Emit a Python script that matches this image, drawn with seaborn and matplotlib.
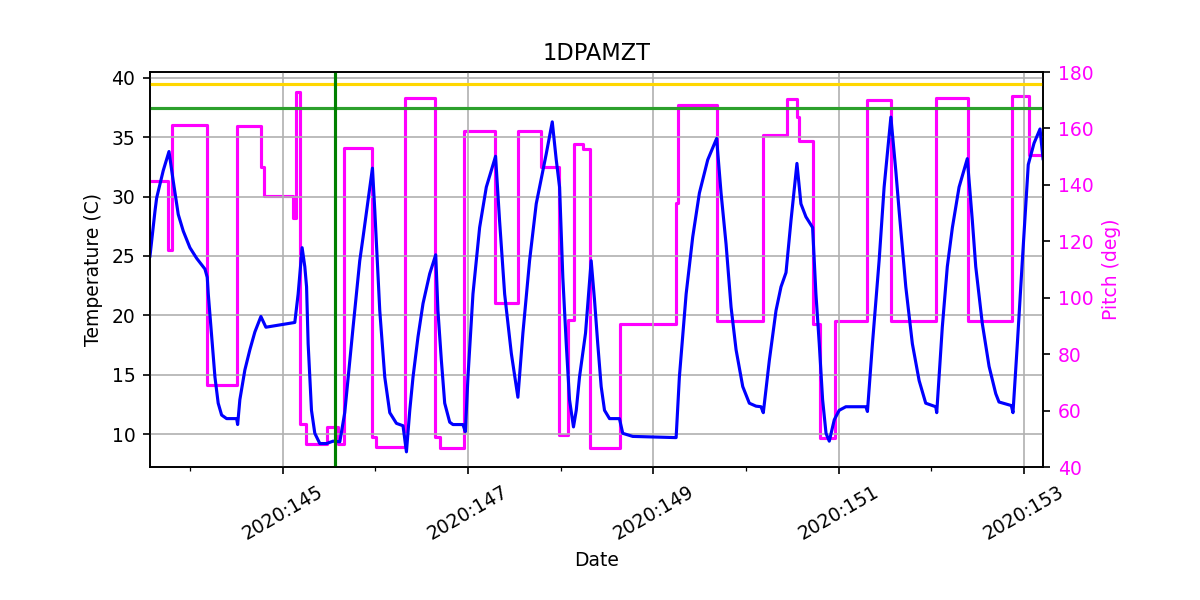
import matplotlib
matplotlib.use("Agg")
import matplotlib.pyplot as plt
import seaborn as sns
import pandas as pd

plt.rcParams["font.size"] = 9

title = "1DPAMZT"
xtick_days = [145, 147, 149, 151, 153]
xtick_labels = ["2020:145", "2020:147", "2020:149", "2020:151", "2020:153"]
minor_days = [144, 146, 148, 150, 152]
planning_limit = 37.5
yellow_limit = 39.5
now_day = 145.56

# Temperature (blue) - day of year (decimal), deg C
temp_day = [143.566, 143.620, 143.638, 143.709, 143.771, 143.817, 143.871, 143.925, 143.997,
            144.070, 144.159, 144.184, 144.195, 144.231, 144.267, 144.302, 144.339, 144.393,
            144.501, 144.512, 144.536, 144.590, 144.644, 144.698, 144.763, 144.817, 145.129,
            145.165, 145.208, 145.237, 145.256, 145.273, 145.309, 145.345, 145.399, 145.471,
            145.542, 145.615, 145.668, 145.758, 145.830, 145.866, 145.920, 145.967, 145.992,
            146.046, 146.100, 146.154, 146.226, 146.297, 146.334, 146.370, 146.405, 146.459,
            146.513, 146.585, 146.650, 146.674, 146.711, 146.747, 146.801, 146.836, 146.944,
            146.970, 146.998, 147.052, 147.124, 147.196, 147.296, 147.339, 147.394, 147.466,
            147.537, 147.591, 147.663, 147.735, 147.789, 147.843, 147.908, 147.951, 147.987,
            148.022, 148.059, 148.094, 148.137, 148.167, 148.202, 148.267, 148.328, 148.364,
            148.399, 148.436, 148.472, 148.526, 148.633, 148.669, 148.777, 149.245, 149.280,
            149.353, 149.424, 149.496, 149.586, 149.682, 149.730, 149.784, 149.838, 149.892,
            149.964, 150.035, 150.107, 150.161, 150.186, 150.251, 150.323, 150.377, 150.431,
            150.485, 150.549, 150.592, 150.646, 150.718, 150.754, 150.790, 150.826, 150.863,
            150.898, 150.952, 151.005, 151.077, 151.293, 151.310, 151.364, 151.436, 151.490,
            151.563, 151.616, 151.652, 151.724, 151.795, 151.868, 151.939, 152.047, 152.058,
            152.118, 152.172, 152.227, 152.299, 152.388, 152.442, 152.479, 152.550, 152.623,
            152.695, 152.730, 152.863, 152.881, 152.928, 152.982, 153.046, 153.108, 153.173,
            153.205]
temp_val = [25.0, 28.8, 29.9, 32.2, 33.8, 31.3, 28.5, 27.1, 25.7,
            24.8, 23.9, 23.2, 21.8, 18.3, 14.8, 12.6, 11.6, 11.3,
            11.3, 10.8, 12.9, 15.4, 17.1, 18.6, 19.9, 19.0, 19.4,
            21.8, 25.7, 24.1, 22.4, 17.6, 12.0, 10.06, 9.2, 9.2,
            9.4, 9.35, 11.8, 19.0, 24.6, 26.6, 29.7, 32.4, 28.9,
            20.4, 14.8, 11.8, 10.9, 10.7, 8.5, 12.0, 14.8, 18.2,
            21.0, 23.5, 25.1, 20.4, 16.2, 12.6, 11.0, 10.8, 10.8,
            10.2, 14.8, 21.8, 27.4, 30.8, 33.4, 28.0, 21.8, 16.8,
            13.1, 18.5, 24.6, 29.4, 31.5, 33.6, 36.3, 33.1, 30.8,
            23.2, 17.6, 12.9, 10.6, 12.0, 14.8, 18.5, 24.6, 21.3,
            17.6, 14.0, 12.0, 11.3, 11.3, 10.06, 9.8, 9.7, 14.8,
            21.8, 26.6, 30.3, 33.1, 34.9, 30.3, 26.0, 20.7, 17.1,
            14.0, 12.6, 12.35, 12.3, 11.8, 16.2, 20.4, 22.4, 23.6,
            28.0, 32.8, 29.4, 28.3, 27.4, 21.8, 17.6, 12.9, 10.06,
            9.4, 11.2, 12.0, 12.3, 12.3, 11.9, 17.6, 24.6, 30.8,
            36.7, 32.2, 28.8, 22.4, 17.6, 14.5, 12.6, 12.3, 11.8,
            19.0, 24.1, 27.4, 30.8, 33.2, 28.0, 24.1, 19.3, 15.7,
            13.4, 12.7, 12.4, 11.8, 17.6, 24.6, 32.7, 34.5, 35.7,
            33.2]

# Pitch (magenta) - change times and levels (held until next change)
pitch_day = [143.566, 143.763, 143.806, 144.177, 144.501, 144.760, 144.795, 145.111, 145.137,
             145.186, 145.251, 145.478, 145.596, 145.665, 145.963, 146.010, 146.323, 146.639,
             146.693, 146.951, 147.289, 147.537, 147.789, 147.983, 148.080, 148.139, 148.241,
             148.315, 148.644, 149.245, 149.262, 149.682, 150.178, 150.437, 150.552, 150.570,
             150.718, 150.798, 150.963, 151.306, 151.566, 152.051, 152.396, 152.871, 153.050,
             153.205]
pitch_val = [141.5, 116.9, 161.3, 69.1, 161.0, 146.5, 136.2, 128.2, 173.0,
             55.5, 48.4, 54.3, 48.4, 153.0, 50.7, 47.2, 170.9, 50.7,
             47.0, 159.2, 98.2, 159.2, 146.2, 51.3, 92.1, 154.5, 152.6,
             46.9, 90.9, 133.6, 168.3, 91.8, 157.7, 170.3, 164.0, 155.6,
             90.9, 50.4, 91.7, 170.1, 91.7, 170.7, 91.7, 171.6, 150.6,
             150.6]

temp_df = pd.DataFrame({"day": temp_day, "temp": temp_val})
pitch_df = pd.DataFrame({"day": pitch_day, "pitch": pitch_val})

fig, ax = plt.subplots(figsize=(8, 4), dpi=150)
fig.subplots_adjust(left=0.125, right=0.8694, top=0.88, bottom=0.2212)
ax2 = ax.twinx()

sns.lineplot(data=pitch_df, x="day", y="pitch", ax=ax2, color="magenta",
             estimator=None, sort=False, drawstyle="steps-post", linewidth=1.5)
sns.lineplot(data=temp_df, x="day", y="temp", ax=ax, color="blue",
             estimator=None, sort=False, linewidth=1.5)

ax.axhline(yellow_limit, color="gold", linewidth=1.5)
ax.axhline(planning_limit, color="tab:green", linewidth=1.5)
ax.axvline(now_day, color="green", linewidth=1.5)

ax.set_zorder(ax2.get_zorder() + 1)
ax.patch.set_visible(False)

ax.set_xlim(143.566, 153.208)
ax.set_ylim(7.2, 40.5)
ax2.set_ylim(40, 180)
ax.set_xticks(xtick_days)
ax.set_xticklabels(xtick_labels, rotation=30)
ax.set_xticks(minor_days, minor=True)
ax.set_yticks([10, 15, 20, 25, 30, 35, 40])
ax2.set_yticks([40, 60, 80, 100, 120, 140, 160, 180])
ax.grid(True)
ax2.grid(False)

ax.set_title(title)
ax.set_xlabel("Date")
ax.set_ylabel("Temperature (C)")
ax2.set_ylabel("Pitch (deg)", color="magenta")
ax2.tick_params(axis="y", labelcolor="magenta")

fig.savefig("out.png", dpi=150)
